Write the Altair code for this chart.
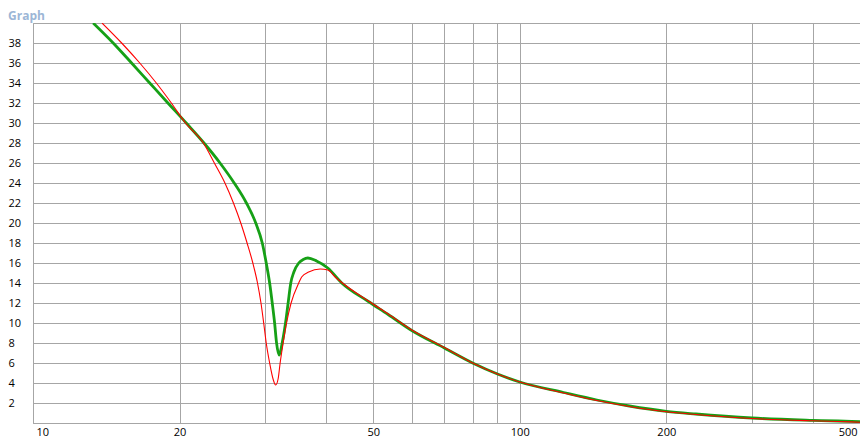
import altair as alt
import pandas as pd

# Green series (frequency, value)
green_f = [13.29, 14.61, 15.94, 17.37, 18.93, 20.64, 22.45, 24.22, 25.90, 27.44,
           28.68, 29.58, 30.14, 30.63, 31.01, 31.36, 31.65, 32.04, 32.50, 33.02,
           33.43, 33.85, 34.35, 35.15, 35.90, 36.70, 38.24, 40.33, 43.08, 48.87,
           53.66, 60, 70, 80, 90, 100, 123, 144, 168, 200, 230, 300, 400, 450, 500]
green_v = [40, 38, 36, 34, 32, 30, 28, 26, 24, 22,
           20, 18, 16, 14, 12, 10, 8, 6.8, 8, 10,
           12, 14, 15.1, 16, 16.35, 16.5, 16.2, 15.5, 14, 12.15,
           10.85, 9.25, 7.5, 6.0, 4.9, 4.1, 3.05, 2.3, 1.7, 1.17, 0.9, 0.5, 0.27, 0.2, 0.13]

# Red series (frequency, value)
red_f = [13.86, 15.21, 16.57, 17.92, 19.24, 20.57, 22.39, 23.58, 24.79, 25.81,
         26.72, 27.53, 28.29, 28.92, 29.40, 29.78, 30.14, 30.63, 31.13, 31.51,
         31.88, 32.19, 32.65, 33.18, 33.90, 35.15, 35.64, 36.84, 38.92, 40.33,
         41.76, 43.08, 48.87, 53.66, 60, 70, 80, 90, 100, 123, 144, 168, 200,
         230, 300, 400, 450, 500]
red_v = [40, 38, 36, 34, 32, 30, 28, 26, 24, 22,
         20, 18, 16, 14, 12, 10, 8, 6, 4.4, 3.8,
         4.4, 6, 8, 10, 12, 14, 14.6, 15.1, 15.4, 15.3,
         14.6, 14.05, 12.2, 10.9, 9.3, 7.55, 6.0, 4.9, 4.1, 3.0, 2.25, 1.65, 1.12,
         0.85, 0.45, 0.22, 0.15, 0.08]

x_ticks = [10, 20, 30, 40, 50, 60, 70, 80, 90, 100, 200, 300, 400, 500]
x_labels = [10, 20, 50, 100, 200, 500]
y_ticks = list(range(0, 42, 2))

df = pd.concat([
    pd.DataFrame({"f": green_f, "v": green_v, "s": "green", "o": range(len(green_f))}),
    pd.DataFrame({"f": red_f, "v": red_v, "s": "red", "o": range(len(red_f))}),
])

grid_col = "#a6a6a6"
font = "Open Sans"
label_expr_x = "indexof([" + ",".join(str(v) for v in x_labels) + "], datum.value) >= 0 ? datum.label : ''"

x_enc = alt.X("f:Q", scale=alt.Scale(type="log", domain=[10, 500], nice=False),
              axis=alt.Axis(values=x_ticks, title=None, ticks=False, grid=True,
                            labelExpr=label_expr_x,
                            labelFlush=10, labelFlushOffset=-3, labelPadding=3,
                            labelFont=font, labelFontSize=11, labelColor="#000000",
                            gridColor=grid_col, domainColor=grid_col, labelOverlap=False))
y_enc = alt.Y("v:Q", scale=alt.Scale(domain=[0, 40], nice=False),
              axis=alt.Axis(values=y_ticks, title=None, ticks=False, grid=True,
                            labelExpr="(datum.value == 0 || datum.value == 40) ? '' : datum.label",
                            labelAlign="left", labelPadding=25, labelBaseline="middle",
                            labelFont=font, labelFontSize=11, labelColor="#000000",
                            gridColor=grid_col, domainColor=grid_col, labelOverlap=False))

green = alt.Chart(df).transform_filter(alt.datum.s == "green").mark_line(
    color="#16a016", strokeWidth=2.8, interpolate="monotone", clip=True).encode(x=x_enc, y=y_enc, order="o:Q")
red = alt.Chart(df).transform_filter(alt.datum.s == "red").mark_line(
    color="#ff0000", strokeWidth=1.1, interpolate="monotone", clip=True).encode(x=x_enc, y=y_enc, order="o:Q")

chart = alt.layer(green, red).properties(
    width=827, height=400,
    title=alt.TitleParams("Graph", anchor="start", frame="group", dx=-25, dy=14, offset=8,
                          font=font, fontSize=12, fontWeight="bold", color="#9cb6d6"),
    autosize=alt.AutoSizeParams(type="none"),
    padding={"left": 25, "top": 15, "right": 0, "bottom": 16},
).configure_view(stroke=grid_col).configure(background="white")

chart.save("out.html", embed_options={"renderer": "svg", "actions": False})
